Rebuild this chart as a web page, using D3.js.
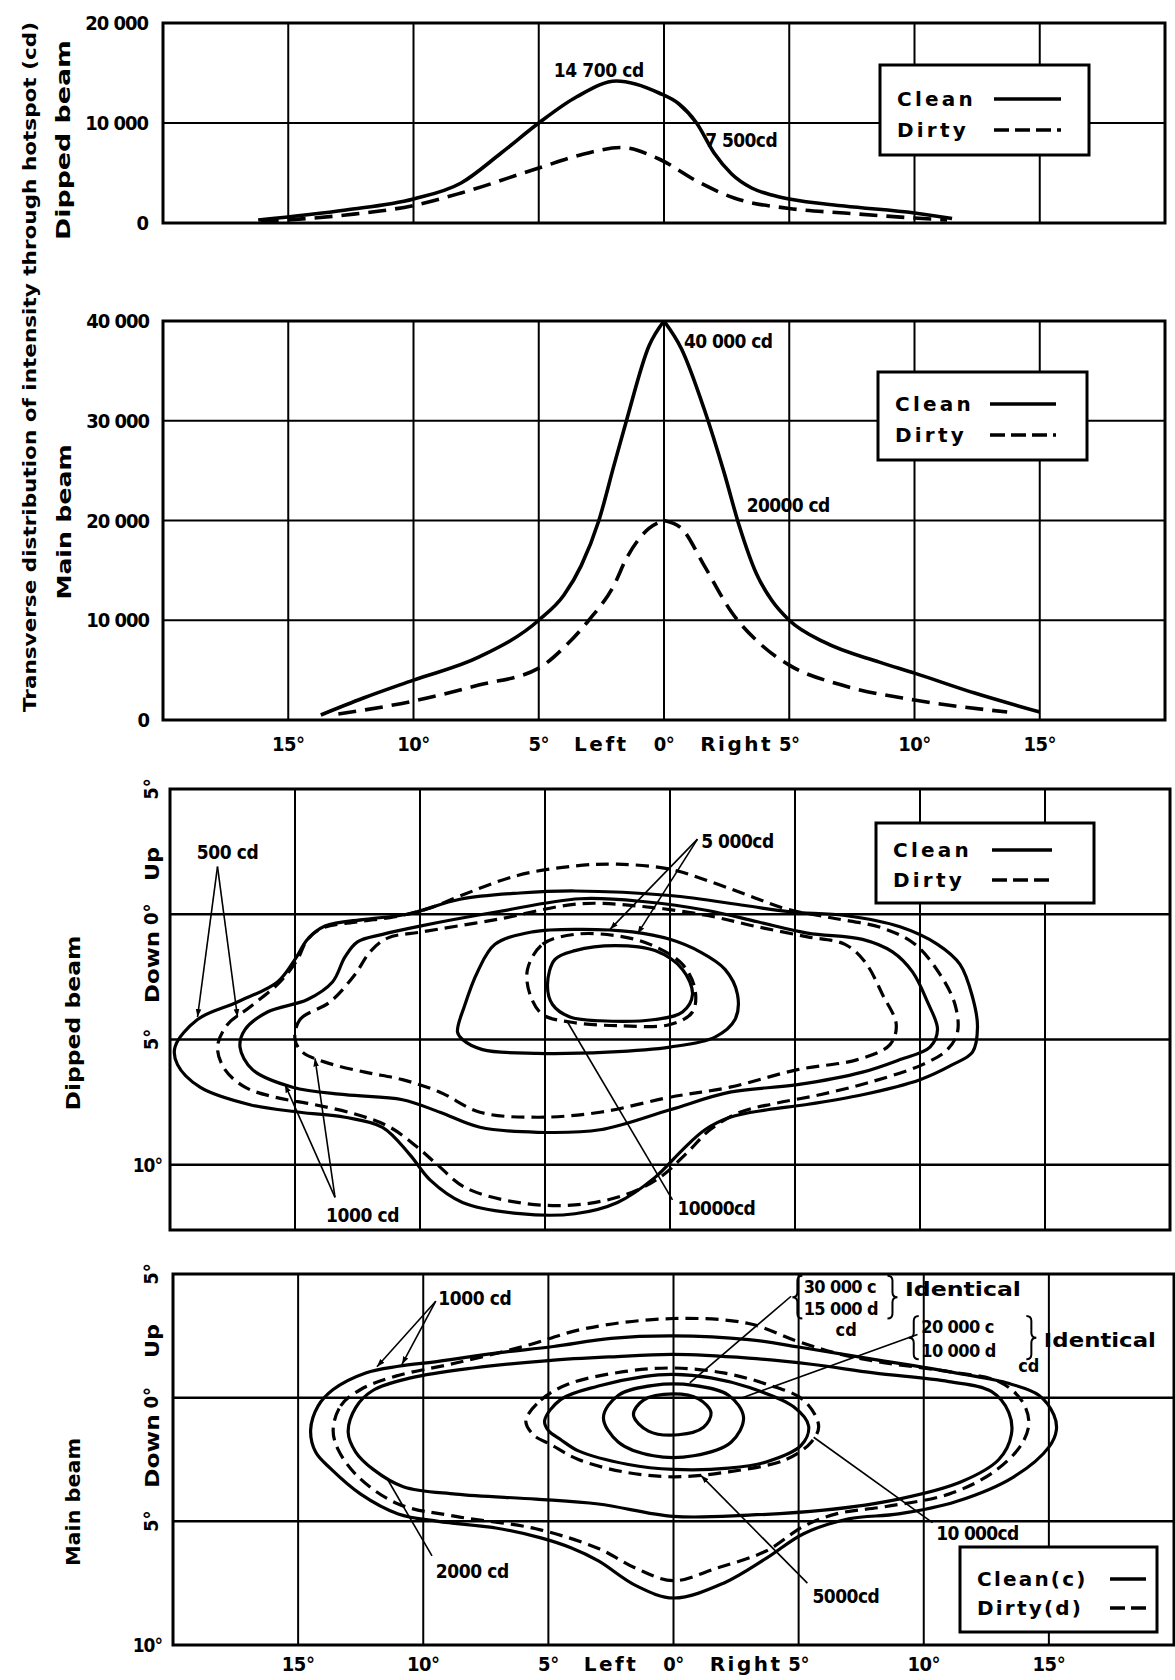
<!DOCTYPE html>
<html>
<head>
<meta charset="utf-8">
<script src="https://cdn.jsdelivr.net/npm/d3@7"></script>
<style>
  body { margin: 0; background: #fff; }
  svg text { font-family: "DejaVu Sans Condensed", "DejaVu Sans", sans-serif; font-weight: bold; fill: #000; }
</style>
</head>
<body>
<div id="chart"></div>
<script>
// ---- data ----
const gridAngles = [-15, -10, -5, 0, 5, 10, 15];
const angleTickLabels = ['15°', '10°', '5°', '0°', '5°', '10°', '15°'];

// dipped beam, transverse intensity through hotspot (deg, cd)
const dipAngleClean = [-16.2, -12.7, -10, -8.1, -6.5, -5, -3.5, -1.9, -0.2, 0.6, 1.3, 2.0, 2.7, 3.5, 4.3, 5, 7.2, 10, 11.5];
const dipClean = [300, 1300, 2400, 4000, 7000, 10000, 12600, 14200, 13000, 11900, 10000, 7000, 4900, 3500, 2800, 2400, 1700, 1000, 450];
const dipAngleDirty = [-16.1, -12.7, -10, -8.1, -5, -3.2, -1.7, -0.2, 1.3, 2.8, 5, 7.2, 10, 11.3];
const dipDirty = [150, 800, 1750, 3000, 5500, 6900, 7550, 6400, 4200, 2500, 1450, 1000, 500, 300];

// main beam, transverse intensity through hotspot
const mainAngleClean = [-13.7, -12, -10, -7.4, -5, -4.0, -3.3, -2.6, -2.0, -1.5, -0.6, 0, 0.7, 1.6, 2.4, 3.0, 3.7, 4.3, 5, 6.4, 8.6, 10, 12.4, 15];
const mainClean = [500, 2200, 4000, 6300, 10000, 12500, 15500, 20000, 25500, 30000, 37500, 40000, 37200, 31200, 24800, 19500, 14600, 12000, 10000, 7800, 5800, 4700, 2700, 800];
const mainAngleDirty = [-13.0, -10, -7.4, -5, -3.9, -3.0, -2.0, -1.5, -0.6, 0, 0.7, 1.6, 2.7, 3.9, 5, 7.1, 10, 13.7];
const mainDirty = [600, 1900, 3500, 5200, 7500, 10000, 13500, 16200, 19200, 20000, 19200, 15500, 10800, 7500, 5500, 3500, 2000, 800];

const dipTicks = [0, 10000, 20000];
const dipTickLabels = ['0', '10 000', '20 000'];
const mainTicks = [0, 10000, 20000, 30000, 40000];
const mainTickLabels = ['0', '10 000', '20 000', '30 000', '40 000'];

// isocandela contours [deg left(-)/right(+), deg up(-)/down(+)]
const dipIso500Clean = [[-19.8, 5.3], [-18.9, 4.2], [-17.3, 3.5], [-15.7, 2.7], [-15.0, 1.8], [-14.5, 1.0], [-13.8, 0.47], [-12.2, 0.2], [-10.5, 0.0], [-8.4, -0.6], [-6, -0.85], [-3.8, -0.93], [0, -0.75], [3, -0.35], [4.8, -0.1], [7, 0.05], [9.2, 0.5], [10.7, 1.2], [11.6, 2.0], [12.1, 3.3], [12.3, 4.5], [12.1, 5.5], [11.3, 6.0], [10, 6.6], [7.7, 7.2], [5.4, 7.6], [3.9, 7.8], [2.4, 8.1], [1.4, 8.6], [0.5, 9.4], [-0.6, 10.5], [-2.1, 11.5], [-3.8, 11.95], [-6, 11.95], [-8.3, 11.5], [-9.6, 10.6], [-10.4, 9.6], [-11.5, 8.5], [-13.0, 8.1], [-14.8, 7.9], [-16.8, 7.6], [-18.8, 6.9], [-19.7, 6.0]];
const dipIso500Dirty = [[-18.1, 5.3], [-17.7, 4.4], [-16.8, 3.7], [-15.6, 2.7], [-14.9, 1.8], [-14.5, 1.0], [-13.9, 0.55], [-12.5, 0.3], [-11, 0.1], [-9.6, -0.25], [-8.4, -0.73], [-6.1, -1.55], [-3.8, -1.93], [-2.1, -2.0], [0, -1.8], [1.7, -1.27], [3.2, -0.73], [4.7, -0.2], [6.5, 0.15], [8.5, 0.55], [9.8, 1.2], [10.8, 2.4], [11.4, 3.6], [11.5, 4.7], [11.1, 5.4], [10.1, 6.0], [8, 6.7], [6, 7.2], [4.2, 7.55], [2.8, 7.9], [1.6, 8.6], [0.7, 9.5], [-0.4, 10.5], [-1.8, 11.2], [-3.8, 11.6], [-6.1, 11.5], [-8.2, 10.9], [-9.3, 10.0], [-10.1, 9.3], [-11.2, 8.5], [-12.5, 8.0], [-14.2, 7.6], [-15.8, 7.3], [-17.0, 6.9], [-17.8, 6.2]];
const dipIso1000Clean = [[-17.2, 5.3], [-17.0, 4.6], [-16.1, 3.9], [-14.5, 3.4], [-13.5, 2.7], [-13.0, 1.7], [-12.5, 1.1], [-11.5, 0.8], [-10, 0.47], [-6.9, -0.1], [-3.6, -0.62], [-1, -0.5], [1.5, -0.15], [3.5, 0.3], [5.5, 0.75], [7.7, 1.0], [8.9, 1.5], [9.7, 2.3], [10.3, 3.5], [10.7, 4.6], [10.4, 5.3], [9.2, 5.8], [7.7, 6.3], [5.1, 6.8], [2.4, 7.1], [0, 7.8], [-2.8, 8.6], [-5.3, 8.7], [-7.6, 8.5], [-9.2, 7.9], [-10.7, 7.4], [-13.0, 7.2], [-15.1, 6.9], [-16.7, 6.2]];
const dipIso1000Dirty = [[-15.0, 5.0], [-14.8, 4.2], [-13.6, 3.5], [-12.6, 2.4], [-12.0, 1.5], [-11.3, 0.95], [-9.9, 0.7], [-6.9, 0.2], [-3.6, -0.42], [-1, -0.3], [1.5, 0.05], [3.5, 0.5], [5.5, 0.9], [7.0, 1.2], [7.8, 1.9], [8.5, 3.2], [9.05, 4.4], [8.8, 5.2], [7.5, 5.8], [5.1, 6.2], [2.4, 6.9], [0, 7.3], [-2.8, 7.9], [-5.3, 8.1], [-7.6, 7.9], [-9.2, 7.1], [-10.7, 6.6], [-12.2, 6.3], [-13.8, 5.9], [-14.7, 5.5]];
const dipIso5000Clean = [[-8.5, 4.7], [-8.2, 3.6], [-7.7, 2.3], [-7.0, 1.2], [-5.5, 0.7], [-3.6, 0.6], [-1.5, 0.7], [0, 1.0], [1.2, 1.5], [2.2, 2.2], [2.7, 3.2], [2.6, 4.2], [1.8, 4.9], [0, 5.3], [-2.5, 5.5], [-5.3, 5.55], [-7.5, 5.4], [-8.3, 5.0]];
const dipIso5000Dirty = [[-5.7, 2.2], [-5.1, 1.2], [-3.8, 0.8], [-2.2, 0.85], [-0.8, 1.2], [0.5, 2.0], [1.0, 3.0], [0.9, 3.9], [0, 4.4], [-2, 4.45], [-4, 4.3], [-5.1, 4.0], [-5.6, 3.2]];
const dipIso10000Clean = [[-4.9, 2.8], [-4.6, 1.8], [-3.8, 1.45], [-2.2, 1.25], [-0.6, 1.45], [0.5, 2.2], [0.9, 3.2], [0.5, 3.9], [-0.6, 4.2], [-2.8, 4.25], [-4.0, 4.1], [-4.7, 3.6]];

const mainIso1000Clean = [[-14.5, 1.3], [-14.2, 0.33], [-13.6, -0.33], [-12.3, -1.0], [-11.0, -1.27], [-9.4, -1.47], [-7.1, -1.8], [-4.8, -2.07], [-2.5, -2.4], [0, -2.5], [3, -2.35], [5, -2.05], [8, -1.55], [11, -1.05], [13.3, -0.6], [14.6, -0.1], [15.2, 0.7], [15.3, 1.3], [15.0, 2.0], [13.6, 3.2], [11.3, 4.2], [9, 4.7], [7, 4.9], [5.2, 5.5], [3.7, 6.5], [2, 7.5], [0, 8.1], [-1.5, 7.6], [-3.0, 6.6], [-4.1, 6.07], [-5.3, 5.67], [-7.1, 5.27], [-9.4, 5.0], [-11.0, 4.7], [-12.5, 3.9], [-13.7, 2.87], [-14.3, 2.2]];
const mainIso1000Dirty = [[-13.6, 1.3], [-13.3, 0.33], [-12.5, -0.33], [-11.1, -0.87], [-8.7, -1.4], [-6.0, -2.07], [-3.5, -2.8], [0, -3.2], [3, -3.0], [4.9, -2.3], [6.5, -1.8], [8.2, -1.45], [11, -1.05], [13, -0.65], [13.9, 0.1], [14.2, 1.0], [13.9, 1.9], [12.8, 3.0], [11, 3.9], [8.5, 4.4], [6.5, 4.7], [5.2, 5.2], [3.7, 6.2], [1.7, 6.9], [0, 7.4], [-1.5, 6.9], [-3.0, 6.1], [-5.5, 5.3], [-8.7, 4.8], [-11.0, 4.3], [-12.6, 3.2], [-13.4, 2.1]];
const mainIso2000Clean = [[-13.0, 1.4], [-12.7, 0.4], [-12.0, -0.3], [-10.5, -0.8], [-8, -1.2], [-5, -1.5], [-2.5, -1.65], [0, -1.75], [3, -1.6], [5.5, -1.35], [8, -1.0], [11, -0.65], [12.7, -0.25], [13.4, 0.6], [13.5, 1.5], [13.0, 2.5], [11.5, 3.4], [9, 4.1], [6, 4.55], [3, 4.75], [0, 4.8], [-3.0, 4.3], [-5.5, 4.1], [-8.7, 3.9], [-10.8, 3.6], [-12.0, 2.9], [-12.7, 2.2]];
const mainIso5000Dirty = [[-5.9, 0.93], [-5.3, 0.1], [-4.2, -0.55], [-2, -1.05], [0, -1.2], [2, -1.0], [3.7, -0.55], [5.2, 0.1], [5.8, 1.15], [5.5, 1.8], [4.5, 2.5], [2.2, 3.0], [0, 3.2], [-2.0, 3.0], [-3.8, 2.5], [-4.9, 1.9], [-5.6, 1.5]];
const mainIso10000Clean = [[-5.15, 0.93], [-4.5, 0.07], [-3.0, -0.47], [-1.2, -0.85], [0, -0.94], [1.5, -0.8], [3.0, -0.42], [4.8, 0.37], [5.4, 1.15], [5.1, 1.93], [3.7, 2.6], [2.2, 2.85], [0, 2.9], [-1.8, 2.7], [-3.8, 2.15], [-4.5, 1.7], [-5.0, 1.33]];
const mainIso20000Clean = [[-2.8, 0.8], [-2.2, -0.1], [-0.8, -0.5], [0.8, -0.5], [2.2, -0.1], [2.8, 0.8], [2.3, 1.8], [0.8, 2.35], [-0.8, 2.35], [-2.2, 1.8]];
const mainIso30000Clean = [[-1.6, 0.7], [-1.2, 0.1], [0, -0.15], [1.0, 0.05], [1.5, 0.6], [1.2, 1.2], [0.2, 1.5], [-1.0, 1.35]];

// ---- layout ----
const W = 1175, H = 1680;
const svg = d3.select('#chart').append('svg').attr('width', W).attr('height', H);

const defs = svg.append('defs');
defs.append('marker').attr('id', 'arrow')
  .attr('viewBox', '0 0 10 10').attr('refX', 10).attr('refY', 5)
  .attr('markerWidth', 8).attr('markerHeight', 8).attr('markerUnits', 'userSpaceOnUse')
  .attr('orient', 'auto')
  .append('path').attr('d', 'M0,1.5L10,5L0,8.5Z').attr('fill', '#000');

const p1 = { x: d3.scaleLinear().domain([-20, 20]).range([163, 1165]), y: d3.scaleLinear().domain([0, 20000]).range([223, 23]) };
const p2 = { x: d3.scaleLinear().domain([-20, 20]).range([163, 1165]), y: d3.scaleLinear().domain([0, 40000]).range([720, 321]) };
const p3 = { x: d3.scaleLinear().domain([-20, 20]).range([170, 1170]), y: d3.scaleLinear().domain([-5, 12.6]).range([789, 1230]) };
const p4 = { x: d3.scaleLinear().domain([-20, 20]).range([173, 1174]), y: d3.scaleLinear().domain([-5, 10]).range([1274, 1645]) };

const SOLID_W = 3.6, DASH = '18,9';

function drawFrame(p, yGrid, yGridWidth) {
  const g = svg.append('g');
  const [xa, xb] = p.x.range();
  const ys = p.y.range(), ya = Math.min(...ys), yb = Math.max(...ys);
  g.selectAll('line.vgrid').data(gridAngles).join('line').attr('class', 'vgrid')
    .attr('x1', d => p.x(d)).attr('x2', d => p.x(d)).attr('y1', ya).attr('y2', yb)
    .attr('stroke', '#000').attr('stroke-width', 2);
  g.selectAll('line.hgrid').data(yGrid).join('line').attr('class', 'hgrid')
    .attr('x1', xa).attr('x2', xb).attr('y1', d => p.y(d)).attr('y2', d => p.y(d))
    .attr('stroke', '#000').attr('stroke-width', yGridWidth);
  g.append('rect').attr('x', xa).attr('y', ya).attr('width', xb - xa).attr('height', yb - ya)
    .attr('fill', 'none').attr('stroke', '#000').attr('stroke-width', 3);
  return g;
}

// profiles use monotone interpolation; a pointed peak is drawn as two halves
function drawProfile(p, angles, values, dashed, splitAt) {
  const pts = angles.map((a, i) => [a, values[i]]);
  const line = d3.line().x(d => p.x(d[0])).y(d => p.y(d[1])).curve(d3.curveMonotoneX);
  const parts = splitAt === undefined ? [pts]
    : [pts.filter(d => d[0] <= splitAt), pts.filter(d => d[0] >= splitAt)];
  const g = svg.append('g');
  parts.forEach(part => {
    g.append('path').datum(part).attr('d', line)
      .attr('fill', 'none').attr('stroke', '#000').attr('stroke-width', SOLID_W)
      .attr('stroke-linejoin', 'round')
      .attr('stroke-dasharray', dashed ? DASH : null);
  });
}

function drawContour(p, pts, dashed) {
  const line = d3.line().x(d => p.x(d[0])).y(d => p.y(d[1])).curve(d3.curveCatmullRomClosed.alpha(0.5));
  svg.append('path').datum(pts).attr('d', line)
    .attr('fill', 'none').attr('stroke', '#000').attr('stroke-width', 3.2)
    .attr('stroke-dasharray', dashed ? '13,7' : null);
}

function label(x, y, txt, opts = {}) {
  const t = svg.append('text').attr('x', x).attr('y', y).text(txt)
    .attr('font-size', opts.size || 18)
    .attr('text-anchor', opts.anchor || 'start');
  if (opts.ls) t.attr('letter-spacing', opts.ls);
  if (opts.dy) t.attr('dy', opts.dy);
  if (opts.len) t.attr('textLength', opts.len).attr('lengthAdjust', 'spacingAndGlyphs');
  if (opts.family) t.style('font-family', opts.family);
  return t;
}

function vlabel(cx, cy, txt, size, len) {
  const t = svg.append('text').attr('transform', `translate(${cx},${cy}) rotate(-90)`)
    .attr('text-anchor', 'middle').attr('dy', '0.36em')
    .attr('font-size', size).style('font-family', '"DejaVu Sans", sans-serif').text(txt);
  if (len) t.attr('textLength', len).attr('lengthAdjust', 'spacingAndGlyphs');
  return t;
}

function leader(p, from, to, arrow) {
  svg.append('line')
    .attr('x1', p.x(from[0])).attr('y1', p.y(from[1]))
    .attr('x2', p.x(to[0])).attr('y2', p.y(to[1]))
    .attr('stroke', '#000').attr('stroke-width', 1.6)
    .attr('marker-end', arrow ? 'url(#arrow)' : null);
}

function legend(x, y, w, h, names, rows, sx1, sx2, ls) {
  svg.append('rect').attr('x', x).attr('y', y).attr('width', w).attr('height', h)
    .attr('fill', '#fff').attr('stroke', '#000').attr('stroke-width', 3);
  names.forEach((n, i) => {
    label(x + 17, rows[i], n, { size: 20, ls: ls, family: '"DejaVu Sans", sans-serif' });
    svg.append('line').attr('x1', sx1).attr('x2', sx2)
      .attr('y1', rows[i] - 7).attr('y2', rows[i] - 7)
      .attr('stroke', '#000').attr('stroke-width', 3.4)
      .attr('stroke-dasharray', i === 1 ? '15,6' : null);
  });
}

function brace(p, xDeg, y1Deg, y2Deg, dir) {
  const x = p.x(xDeg), y1 = p.y(y1Deg), y2 = p.y(y2Deg), ym = (y1 + y2) / 2, w = 5 * dir;
  const d = `M${x + w},${y1} Q${x},${y1} ${x},${y1 + 5} L${x},${ym - 5} Q${x},${ym} ${x - w},${ym} Q${x},${ym} ${x},${ym + 5} L${x},${y2 - 5} Q${x},${y2} ${x + w},${y2}`;
  svg.append('path').attr('d', d).attr('fill', 'none').attr('stroke', '#000').attr('stroke-width', 2);
}

// ---- frames ----
drawFrame(p1, [10000], 2);
drawFrame(p2, [10000, 20000, 30000], 2);
drawFrame(p3, [0, 5, 10], 2.5);
drawFrame(p4, [0, 5], 2.5);

// ---- intensity profiles ----
drawProfile(p1, dipAngleClean, dipClean, false);
drawProfile(p1, dipAngleDirty, dipDirty, true);
drawProfile(p2, mainAngleClean, mainClean, false, 0);
drawProfile(p2, mainAngleDirty, mainDirty, true, 0);

// ---- contours ----
drawContour(p3, dipIso500Clean, false);
drawContour(p3, dipIso500Dirty, true);
drawContour(p3, dipIso1000Clean, false);
drawContour(p3, dipIso1000Dirty, true);
drawContour(p3, dipIso5000Clean, false);
drawContour(p3, dipIso5000Dirty, true);
drawContour(p3, dipIso10000Clean, false);

drawContour(p4, mainIso1000Clean, false);
drawContour(p4, mainIso1000Dirty, true);
drawContour(p4, mainIso2000Clean, false);
drawContour(p4, mainIso5000Dirty, true);
drawContour(p4, mainIso10000Clean, false);
drawContour(p4, mainIso20000Clean, false);
drawContour(p4, mainIso30000Clean, false);

// ---- y tick labels ----
dipTicks.forEach((v, i) => label(148, p1.y(v), dipTickLabels[i], { size: 20, anchor: 'end', dy: '0.36em', ls: -1 }));
mainTicks.forEach((v, i) => label(149, p2.y(v), mainTickLabels[i], { size: 20, anchor: 'end', dy: '0.36em', ls: -1 }));

[p3, p4].forEach(p => {
  [[-5, '5°'], [0, '0°'], [5, '5°']].forEach(([v, t]) => {
    svg.append('text').attr('transform', `translate(151,${p.y(v)}) rotate(-90)`)
      .attr('text-anchor', 'middle').attr('dy', '0.36em').attr('font-size', 20).text(t);
  });
  label(162, p.y(10), '10°', { size: 19, anchor: 'end', dy: '0.36em', ls: -1 });
});

// ---- x tick labels ----
[[p2, 744], [p4, 1664]].forEach(([p, yy]) => {
  gridAngles.forEach((a, i) => label(p.x(a), yy, angleTickLabels[i], { size: 20, anchor: 'middle', dy: '0.36em', ls: -0.5 }));
  label(p.x(-2.5), yy, 'Left', { size: 20, anchor: 'middle', dy: '0.36em', ls: 2.5, family: '"DejaVu Sans", sans-serif' });
  label(p.x(2.9), yy, 'Right', { size: 20, anchor: 'middle', dy: '0.36em', ls: 2.5, family: '"DejaVu Sans", sans-serif' });
});

// ---- side titles ----
vlabel(30, 367, 'Transverse distribution of intensity through hotspot (cd)', 18, 690);
vlabel(63, 140, 'Dipped  beam', 20, 200);
vlabel(64, 522, 'Main  beam', 20, 155);
vlabel(73, 1023, 'Dipped  beam', 20, 175);
vlabel(73, 1502, 'Main  beam', 20, 128);
vlabel(152, 864, 'Up', 20, 34);
vlabel(152, 967, 'Down', 20, 72);
vlabel(152, 1341, 'Up', 20, 34);
vlabel(152, 1451, 'Down', 20, 74);

// ---- legends ----
legend(880, 65, 209, 90, ['Clean', 'Dirty'], [106, 137], 994, 1061, 3.2);
legend(878, 372, 209, 88, ['Clean', 'Dirty'], [411, 442], 990, 1056, 3.2);
legend(876, 823, 218, 80, ['Clean', 'Dirty'], [857, 887], 992, 1052, 3.2);
legend(960, 1547, 197, 85, ['Clean(c)', 'Dirty(d)'], [1586, 1615], 1110, 1146, 2.2);

// ---- annotations: intensity profiles ----
label(p1.x(-2.6), p1.y(14600), '14 700 cd', { size: 19, anchor: 'middle', ls: -0.4 });
label(p1.x(1.65), p1.y(7600), '7 500cd', { size: 19, ls: -0.6 });
label(p2.x(0.8), p2.y(37300), '40 000 cd', { size: 19, ls: -0.6 });
label(p2.x(3.3), p2.y(20850), '20000 cd', { size: 19, ls: -0.6 });

// ---- annotations: dipped beam contours ----
label(p3.x(-17.7), p3.y(-2.2), '500 cd', { size: 19, anchor: 'middle', ls: -0.4 });
leader(p3, [-18.1, -1.9], [-18.9, 4.1], true);
leader(p3, [-18.1, -1.9], [-17.3, 4.1], true);
label(p3.x(-12.3), p3.y(12.3), '1000 cd', { size: 19, anchor: 'middle', ls: -0.4 });
leader(p3, [-13.4, 11.3], [-15.4, 6.8], true);
leader(p3, [-13.4, 11.3], [-14.2, 5.75], true);
label(p3.x(1.25), p3.y(-2.63), '5 000cd', { size: 19, ls: -0.5 });
leader(p3, [1.1, -3.0], [-2.4, 0.6], true);
leader(p3, [1.1, -3.0], [-1.3, 0.78], true);
label(p3.x(0.3), p3.y(12.0), '10000cd', { size: 19, ls: -0.6 });
leader(p3, [0.1, 11.4], [-4.1, 4.3], false);

// ---- annotations: main beam contours ----
label(p4.x(-9.4), p4.y(-3.76), '1000 cd', { size: 19, ls: -0.4 });
leader(p4, [-9.5, -3.9], [-11.85, -1.25], true);
leader(p4, [-9.5, -3.9], [-10.85, -1.35], true);
label(p4.x(-9.5), p4.y(7.3), '2000 cd', { size: 19, ls: -0.4 });
leader(p4, [-9.65, 6.4], [-11.4, 3.35], false);

brace(p4, 4.95, -4.93, -3.2, 1);
brace(p4, 8.75, -4.93, -3.2, -1);
label(p4.x(5.2), p4.y(-4.25), '30 000 c', { size: 18, ls: -0.6 });
label(p4.x(5.2), p4.y(-3.35), '15 000 d', { size: 18, ls: -0.6 });
label(p4.x(6.9), p4.y(-2.5), 'cd', { size: 18, anchor: 'middle' });
label(p4.x(9.25), p4.y(-4.1), 'Identical', { size: 19, family: '"DejaVu Sans", sans-serif', len: 116 });
leader(p4, [4.7, -4.1], [0.65, -0.6], false);

brace(p4, 9.6, -3.3, -1.55, 1);
brace(p4, 14.3, -3.3, -1.55, -1);
label(p4.x(9.9), p4.y(-2.6), '20 000 c', { size: 18, ls: -0.6 });
label(p4.x(9.9), p4.y(-1.65), '10 000 d', { size: 18, ls: -0.6 });
label(p4.x(14.2), p4.y(-1.05), 'cd', { size: 18, anchor: 'middle' });
label(p4.x(14.8), p4.y(-2.05), 'Identical', { size: 19, family: '"DejaVu Sans", sans-serif', len: 112 });
leader(p4, [9.75, -2.55], [2.75, 0.0], false);

label(p4.x(10.5), p4.y(5.75), '10 000cd', { size: 19, ls: -0.7 });
leader(p4, [10.35, 5.05], [5.6, 1.6], false);
label(p4.x(5.55), p4.y(8.3), '5000cd', { size: 19, ls: -0.5 });
leader(p4, [5.35, 7.5], [1.1, 3.15], true);
</script>
</body>
</html>
